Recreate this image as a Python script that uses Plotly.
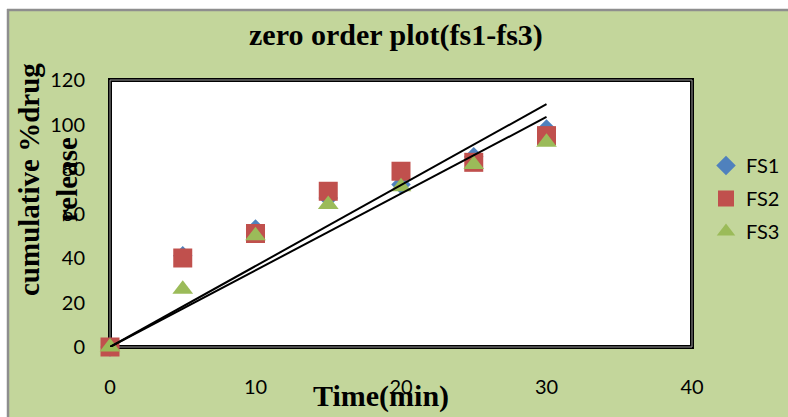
import numpy as np
import plotly.graph_objects as go

# Release data (time in minutes, cumulative % drug released)
time_min = [0, 5, 10, 15, 20, 25, 30]
fs1 = [0, 41, 53, 67, 73, 85.5, 98]
fs2 = [0, 40, 51, 70, 79, 83, 95]
fs3 = [0, 26, 50, 64, 72, 82, 92]

x_ticks = [0, 10, 20, 30, 40]
y_ticks = [0, 20, 40, 60, 80, 100, 120]

W, H = 788, 417
ML, MR, MT, MB = 110, 96, 80, 70
PW, PH = W - ML - MR, H - MT - MB


def px(xp):
    return (xp - ML) / PW


def py(yp):
    return (H - MB - yp) / PH


BG = "#C3D69B"
BLUE, RED, GREEN = "#4F81BD", "#C0504D", "#9BBB59"
SERIF = "Liberation Serif, Times New Roman, serif"
SANS = "Lato, Carlito, Calibri, sans-serif"

fig = go.Figure()
fig.add_trace(go.Scatter(x=time_min, y=fs1, mode="markers", name="FS1",
                         marker=dict(symbol="diamond", size=15, color=BLUE),
                         cliponaxis=False, legendgroup="g1"))
fig.add_trace(go.Scatter(x=time_min, y=fs2, mode="markers", name="FS2",
                         marker=dict(symbol="square", size=19, color=RED),
                         cliponaxis=False, legendgroup="g2"))
fig.add_trace(go.Scatter(x=time_min, y=fs3, mode="markers", name="FS3",
                         marker=dict(symbol="triangle-up", size=18, color=GREEN),
                         cliponaxis=False, legendgroup="g3"))

# Zero-order trend lines (least squares through the origin)
t = np.array(time_min, dtype=float)
for series in (fs1, fs3):
    k = float(np.dot(t, series) / np.dot(t, t))
    fig.add_trace(go.Scatter(x=[0, t[-1]], y=[0, k * t[-1]], mode="lines",
                             line=dict(color="black", width=2),
                             showlegend=False, hoverinfo="skip"))

shapes = [
    # white surround and grey frame of the chart area (kept inside the page)
    dict(type="rect", xref="paper", yref="paper", x0=px(0), x1=px(7),
         y0=py(H), y1=py(0), fillcolor="white", line_width=0, layer="below"),
    dict(type="rect", xref="paper", yref="paper", x0=px(0), x1=px(W),
         y0=py(9), y1=py(0), fillcolor="white", line_width=0, layer="below"),
    dict(type="line", xref="paper", yref="paper", x0=px(8), x1=px(8),
         y0=py(H), y1=py(9), line=dict(color="#8E8E8E", width=2.5)),
    dict(type="line", xref="paper", yref="paper", x0=px(7), x1=px(W),
         y0=py(10), y1=py(10), line=dict(color="#8E8E8E", width=2.5)),
    # plot-area frame
    dict(type="rect", xref="paper", yref="paper", x0=0, x1=1, y0=0, y1=1,
         line=dict(color="black", width=4), layer="below"),
    dict(type="rect", xref="paper", yref="paper", x0=0, x1=1, y0=0, y1=1,
         line=dict(color="#9A9A9A", width=1), layer="below"),
]

annotations = [
    dict(text="<b>zero order plot(fs1-fs3)</b>", xref="paper", yref="paper",
         x=px(396), y=py(35), showarrow=False, xanchor="center", yanchor="middle",
         font=dict(family=SERIF, size=30, color="black")),
    dict(text="<b>Time(min)</b>", xref="paper", yref="paper",
         x=px(381), y=py(396), showarrow=False, xanchor="center", yanchor="middle",
         font=dict(family=SERIF, size=30, color="black")),
    dict(text="<b>cumulative %drug<br>release</b>", xref="paper", yref="paper",
         x=px(48), y=py(180), showarrow=False, xanchor="center", yanchor="middle",
         textangle=-90, font=dict(family=SERIF, size=29, color="black")),
]

fig.update_layout(
    width=W, height=H,
    margin=dict(l=ML, r=MR, t=MT, b=MB, pad=0, autoexpand=False),
    paper_bgcolor=BG, plot_bgcolor="white",
    showlegend=True,
    legend=dict(x=px(706), y=py(146), xanchor="left", yanchor="top",
                bgcolor="rgba(0,0,0,0)", font=dict(family=SANS, size=20, color="black"),
                traceorder="grouped", tracegroupgap=4, itemwidth=30),
    shapes=shapes, annotations=annotations,
    xaxis=dict(range=[0, 40], tickvals=x_ticks, ticktext=[str(v) for v in x_ticks],
               showgrid=False, zeroline=False, showline=False,
               ticks="outside", ticklen=22, tickcolor="rgba(0,0,0,0)",
               tickfont=dict(family=SANS, size=20, color="black")),
    yaxis=dict(range=[0, 120], tickvals=y_ticks, ticktext=[str(v) for v in y_ticks],
               showgrid=False, zeroline=False, showline=False,
               ticks="outside", ticklen=20, tickcolor="rgba(0,0,0,0)",
               tickfont=dict(family=SANS, size=20, color="black")),
)

fig.write_html("out.html", config={"displayModeBar": False})
